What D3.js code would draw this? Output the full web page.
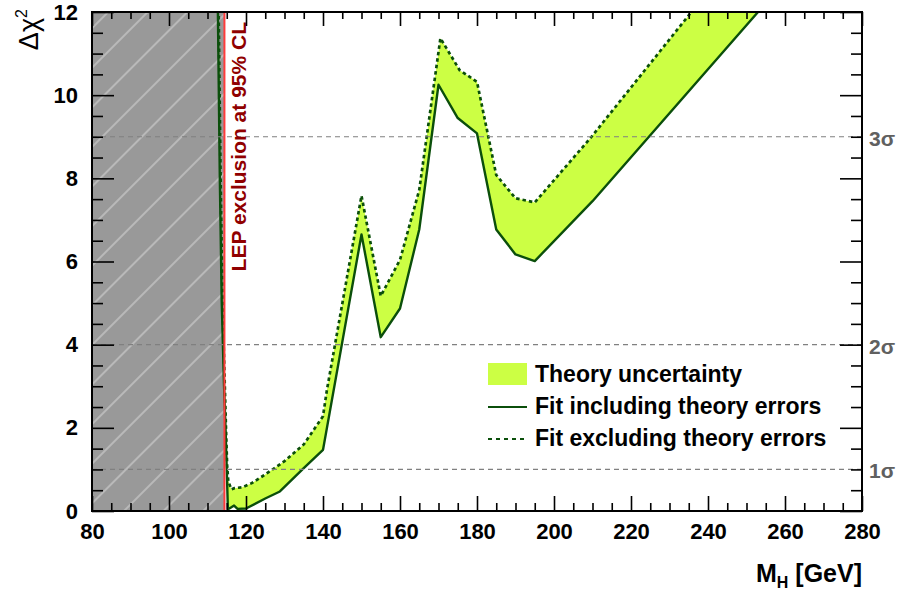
<!DOCTYPE html>
<html><head><meta charset="utf-8">
<script src="https://cdn.jsdelivr.net/npm/d3@7"></script>
<style>
body{margin:0;background:#fff}
svg{display:block}
text{font-family:"Liberation Sans",Arial,Helvetica,sans-serif}
</style>
</head><body>
<svg id="c" width="898" height="592"></svg>
<script>
// ---- data ----
const xTicks = [80,100,120,140,160,180,200,220,240,260,280];
const yTicks = [0,2,4,6,8,10,12];
const sigmaLevels = [1,4,9];
const sigmaLabels = ["1σ","2σ","3σ"];
const lepLimit = 114.4;

// Fit including theory errors (solid, lower edge of band)
const incMass = [112.6,112.7,113.2,113.7,114.3,114.7,115.3,116.0,116.9,117.8,120,125,128.8,135,140,150,155,160,165,170,175,180,185,190,195,210,253,262.5];
const incChi2 = [13,12,8,5,3,1.95,0.04,0.08,0.13,0.05,0.06,0.3,0.47,1.03,1.47,6.65,4.18,4.87,6.77,10.25,9.45,9.08,6.77,6.17,6.01,7.45,12,13];

// Fit excluding theory errors (dashed, upper edge of band)
const excMass = [112.8,112.9,113.4,113.9,114.5,114.8,115.1,115.4,116.2,117,119,121.5,125,128,130,135,140,141,150,155,160,165,170.5,175.5,180,185,190,195,209.4,235.7,244.4];
const excChi2 = [13,12,8,5,3,2,1.1,0.72,0.52,0.55,0.57,0.67,0.88,1.07,1.2,1.6,2.28,2.9,7.58,5.17,6.04,7.72,11.37,10.6,10.32,8.08,7.52,7.42,8.96,12,13];

const legendLabels = ["Theory uncertainty","Fit including theory errors","Fit excluding theory errors"];

// ---- chart ----
const L=92,R=862,T=12,B=511;
const svg = d3.select("#c");
const x = d3.scaleLinear().domain([80,280]).range([L,R]);
const y = d3.scaleLinear().domain([0,12]).range([B,T]);

const inc = incMass.map((m,i)=>[m,incChi2[i]]);
const exc = excMass.map((m,i)=>[m,excChi2[i]]);

const defs = svg.append("defs");
defs.append("clipPath").attr("id","plot").append("rect")
  .attr("x",L).attr("y",T).attr("width",R-L).attr("height",B-T);
const pat = defs.append("pattern").attr("id","hatch").attr("patternUnits","userSpaceOnUse")
  .attr("width",28).attr("height",28).attr("patternTransform","rotate(45)");
pat.append("rect").attr("width",28).attr("height",28).attr("fill","#999999");
pat.append("line").attr("x1",1).attr("y1",0).attr("x2",1).attr("y2",28)
  .attr("stroke","#d4d4d4").attr("stroke-width",1.1);

const plot = svg.append("g").attr("clip-path","url(#plot)");

// excluded region
plot.append("rect").attr("x",x(80)).attr("y",T).attr("width",x(lepLimit)-x(80)).attr("height",B-T)
  .attr("fill","url(#hatch)");

const line = d3.line().x(d=>x(d[0])).y(d=>y(d[1]));

// band
plot.append("path").attr("d", line(exc.concat(inc.slice().reverse())) + "Z")
  .attr("fill","#ccff44").attr("stroke","none");

plot.append("path").attr("d",line(inc)).attr("fill","none")
  .attr("stroke","#0b4f0b").attr("stroke-width",2.4).attr("stroke-linejoin","round");
plot.append("path").attr("d",line(exc)).attr("fill","none")
  .attr("stroke","#0b4f0b").attr("stroke-width",2.7).attr("stroke-dasharray","3.5,3");

// LEP line
plot.append("line").attr("x1",x(lepLimit)).attr("x2",x(lepLimit)).attr("y1",T).attr("y2",B)
  .attr("stroke","#ff3b3b").attr("stroke-width",2);

// sigma lines
sigmaLevels.forEach((s,i)=>{
  svg.append("line").attr("x1",L).attr("x2",R).attr("y1",y(s)).attr("y2",y(s))
    .attr("stroke","#808080").attr("stroke-width",1.2).attr("stroke-dasharray","5,4");
  svg.append("text").attr("x",R+7).attr("y",y(s)+9).text(sigmaLabels[i])
    .attr("font-size",21).attr("font-weight","bold").attr("fill","#606060");
});

// LEP text
svg.append("text").attr("transform",`translate(${x(lepLimit)+22},22) rotate(-90)`)
  .attr("text-anchor","end").attr("font-size",21).attr("font-weight","bold")
  .attr("fill","#900000").text("LEP exclusion at 95% CL");

// axes
function styleAxis(g){
  g.select(".domain").remove();
  g.selectAll(".tick line").attr("stroke","#000").attr("stroke-width",1.6);
  g.selectAll("text").attr("font-size",22).attr("font-weight","bold").attr("fill","#000")
    .style("font-family",'"Liberation Sans",Arial,sans-serif');
}
const xMinor = d3.range(80,281,5).filter(v=>v%20!==0);
const yMinor = d3.range(0,12.01,0.5).filter(v=>v%2!==0);

svg.append("g").attr("transform",`translate(0,${B})`)
  .call(d3.axisBottom(x).tickValues(xTicks).tickSize(-15).tickPadding(12).tickSizeOuter(0)).call(styleAxis);
svg.append("g").attr("transform",`translate(0,${B})`)
  .call(d3.axisBottom(x).tickValues(xMinor).tickSize(-8).tickFormat("").tickSizeOuter(0)).call(styleAxis);
svg.append("g").attr("transform",`translate(0,${T})`)
  .call(d3.axisTop(x).tickValues(xTicks).tickSize(-14).tickFormat("").tickSizeOuter(0)).call(styleAxis);
svg.append("g").attr("transform",`translate(0,${T})`)
  .call(d3.axisTop(x).tickValues(xMinor).tickSize(-7).tickFormat("").tickSizeOuter(0)).call(styleAxis);
svg.append("g").attr("transform",`translate(${L},0)`)
  .call(d3.axisLeft(y).tickValues(yTicks).tickSize(-22).tickPadding(14).tickSizeOuter(0)).call(styleAxis);
svg.append("g").attr("transform",`translate(${L},0)`)
  .call(d3.axisLeft(y).tickValues(yMinor).tickSize(-11).tickFormat("").tickSizeOuter(0)).call(styleAxis);
svg.append("g").attr("transform",`translate(${R},0)`)
  .call(d3.axisRight(y).tickValues(yTicks).tickSize(-22).tickFormat("").tickSizeOuter(0)).call(styleAxis);
svg.append("g").attr("transform",`translate(${R},0)`)
  .call(d3.axisRight(y).tickValues(yMinor).tickSize(-11).tickFormat("").tickSizeOuter(0)).call(styleAxis);

// frame
svg.append("rect").attr("x",L).attr("y",T).attr("width",R-L).attr("height",B-T)
  .attr("fill","none").attr("stroke","#000").attr("stroke-width",2);

// axis titles
const xt = svg.append("text").attr("x",R).attr("y",582).attr("text-anchor","end")
  .attr("font-size",25).attr("font-weight","bold");
xt.append("tspan").text("M");
xt.append("tspan").attr("font-size",16).attr("dy",6).text("H");
xt.append("tspan").attr("dy",-6).text(" [GeV]");

const yt = svg.append("text").attr("transform","translate(38,9) rotate(-90)")
  .attr("text-anchor","end").attr("font-size",27);
yt.append("tspan").text("Δχ");
yt.append("tspan").attr("font-size",16).attr("dy",-11).text("2");

// legend
const lg = svg.append("g");
lg.append("rect").attr("x",488).attr("y",363).attr("width",39).attr("height",22).attr("fill","#ccff44");
lg.append("line").attr("x1",488).attr("x2",527).attr("y1",407).attr("y2",407)
  .attr("stroke","#0b4f0b").attr("stroke-width",2.2);
lg.append("line").attr("x1",488).attr("x2",527).attr("y1",439).attr("y2",439)
  .attr("stroke","#0b4f0b").attr("stroke-width",2).attr("stroke-dasharray","4,4");
[382,414,446].forEach((yy,i)=>{
  lg.append("text").attr("x",535).attr("y",yy).attr("font-size",23).attr("font-weight","bold")
    .text(legendLabels[i]);
});
</script>
</body></html>
